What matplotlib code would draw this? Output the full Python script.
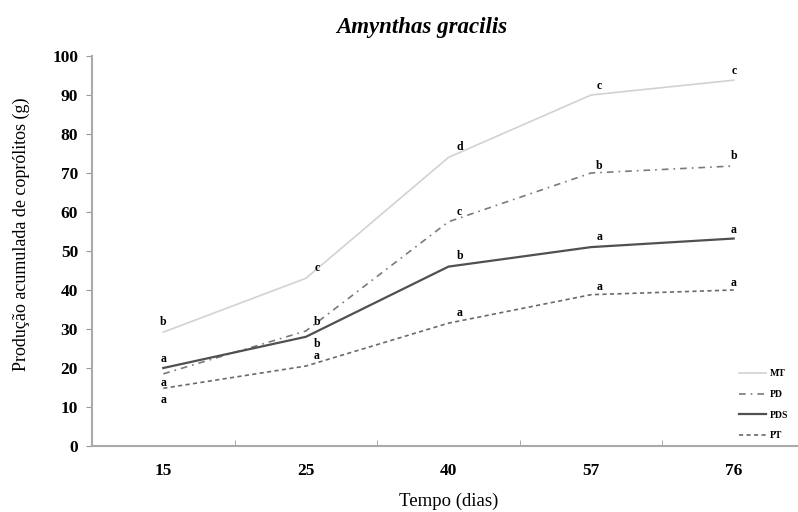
import matplotlib.pyplot as plt

days = ["15", "25", "40", "57", "76"]

mt = [29.2, 43, 74, 90, 93.8]
pd_ = [18.5, 29.5, 57.5, 70, 71.8]
pds = [20, 28, 46, 51, 53.2]
pt = [14.8, 20.5, 31.5, 38.8, 40]

mt_letters = ["b", "c", "d", "c", "c"]
pd_letters = ["a", "b", "c", "b", "b"]
pds_letters = ["a", "b", "b", "a", "a"]
pt_letters = ["a", "a", "a", "a", "a"]

plt.rcParams["font.family"] = ["Liberation Serif", "DejaVu Serif"]

fig = plt.figure(figsize=(7.98, 5.12), dpi=100)
ax = fig.add_axes([92 / 798, 1 - 446 / 512, 713 / 798, 390 / 512])

x = range(len(days))
ax.plot(x, mt, color="#d2d2d2", lw=1.2, label="MT")
ax.plot(x, pd_, color="#7a7a7a", lw=1.2, ls=(0, (4, 3, 1, 3)), label="PD")
ax.plot(x, pds, color="#505050", lw=1.6, label="PDS")
ax.plot(x, pt, color="#6a6a6a", lw=1.2, ls=(0, (2.5, 2)), label="PT")

# letters: (dx, dy) offsets in points, dy > 0 above the line, dy < 0 below
series = [
    (mt, mt_letters, [(0, 3), (8, 3), (8, 3), (6, 2), (0, 2)]),
    (pd_, pd_letters, [(0, -2), (8, 2), (8, 3), (6, 1), (0, 3)]),
    (pds, pds_letters, [(0, 2), (8, -1), (8, 3), (6, 3), (0, 2)]),
    (pt, pt_letters, [(0, -4), (8, 3), (8, 3), (6, 1), (0, 1)]),
]
for vals, letters, offs in series:
    for i, (v, s, (dx, dy)) in enumerate(zip(vals, letters, offs)):
        ax.annotate(s, xy=(i, v), xytext=(dx, dy), textcoords="offset points",
                    ha="center", va="bottom" if dy > 0 else "top",
                    fontsize=8.5, fontweight="bold")

ax.set_xlim(-0.5, 4.5)
ax.set_ylim(0, 100)
ax.set_yticks(range(0, 101, 10))
ax.set_xticks(x)
ax.set_xticklabels(days)
ax.set_xticks([0.5, 1.5, 2.5, 3.5], minor=True)
ax.tick_params(axis="x", which="major", length=0, pad=12)
ax.tick_params(axis="x", which="minor", length=4, color="#999999", direction="in")
ax.tick_params(axis="y", length=4, color="#999999", direction="out", pad=6)
for lab in ax.get_xticklabels() + ax.get_yticklabels():
    lab.set_fontweight("bold")
    lab.set_fontsize(12.5)

ax.spines[["top", "right"]].set_visible(False)
for sp in ["left", "bottom"]:
    ax.spines[sp].set_color("#aaaaaa")
    ax.spines[sp].set_linewidth(1.5)

ax.set_xlabel("Tempo (dias)", fontsize=13.5, labelpad=10)
ax.set_ylabel("Produção acumulada de coprólitos (g)", fontsize=13)
ax.yaxis.set_label_coords(-0.087, 0.544)
fig.text(422 / 798, 1 - 27 / 512, "Amynthas gracilis", ha="center", va="center",
         fontsize=16.5, fontweight="bold", style="italic")

leg = ax.legend(frameon=False, handlelength=2.8, fontsize=7, labelspacing=1.2,
                handletextpad=0.4, loc="lower right")
leg.set_bbox_to_anchor((797 / 798, 1 - 449 / 512), transform=fig.transFigure)
for t in leg.get_texts():
    t.set_fontweight("bold")

fig.savefig("out.png", dpi=100)
